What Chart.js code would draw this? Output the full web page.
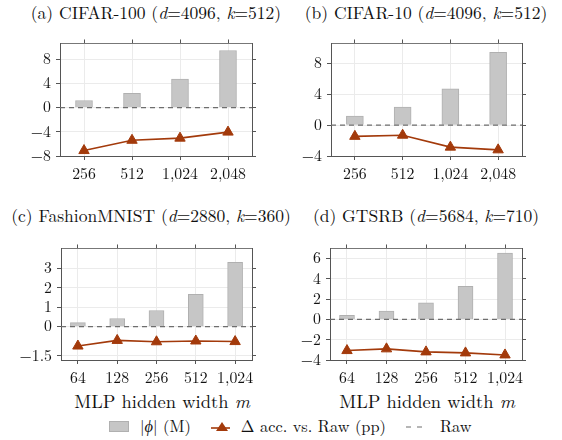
<!DOCTYPE html>
<html>
<head>
<meta charset="utf-8">
<script src="https://cdn.jsdelivr.net/npm/chart.js@4.4.1/dist/chart.umd.min.js"></script>
<style>
  body { margin: 0; background: #fff; }
  #fig { position: relative; width: 562px; height: 440px; font-family: "Latin Modern Roman", "Liberation Serif", serif; color: #111; }
  canvas { position: absolute; }
  .ttl { position: absolute; font-size: 17.5px; line-height: 18px; white-space: nowrap; transform: translateX(-50%); }
  .xlab { position: absolute; font-size: 18.5px; line-height: 18px; white-space: nowrap; transform: translateX(-50%); }
  #legend { position: absolute; left: 109px; top: 417px; font-size: 16.4px; line-height: 18px; white-space: nowrap; display: flex; align-items: center; }
  #legend span { display: inline-block; }
</style>
</head>
<body>
<div id="fig">
  <div class="ttl" style="left:156px;top:3px">(a) CIFAR-100 (<i>d</i>=4096, <i>k</i>=512)</div>
  <div class="ttl" style="left:426px;top:3px">(b) CIFAR-10 (<i>d</i>=4096, <i>k</i>=512)</div>
  <div class="ttl" style="left:151px;top:206px">(c) FashionMNIST (<i>d</i>=2880, <i>k</i>=360)</div>
  <div class="ttl" style="left:426px;top:206px">(d) GTSRB (<i>d</i>=5684, <i>k</i>=710)</div>
  <div class="xlab" style="left:162px;top:391px">MLP hidden width <i>m</i></div>
  <div class="xlab" style="left:427px;top:391px">MLP hidden width <i>m</i></div>
  <canvas id="cA"></canvas>
  <canvas id="cB"></canvas>
  <canvas id="cC"></canvas>
  <canvas id="cD"></canvas>
  <div id="legend">
    <span style="width:20px;height:11px;background:#c6c6c6;border:1px solid #b0b0b0;box-sizing:border-box"></span>
    <span style="margin-left:11px">|<i>ϕ</i>| (M)</span>
    <svg width="20" height="12" style="margin-left:20px"><line x1="0" y1="8" x2="19" y2="8" stroke="#a33a0b" stroke-width="1.6"/><polygon points="11,2 17,11 5,11" fill="#a33a0b"/></svg>
    <span style="margin-left:10px">Δ acc. vs. Raw (pp)</span>
    <svg width="22" height="12" style="margin-left:20px"><line x1="0" y1="7" x2="22" y2="7" stroke="#6e6e6e" stroke-width="1.2" stroke-dasharray="5,6"/></svg>
    <span style="margin-left:12px">Raw</span>
  </div>
</div>
<script>
// hidden widths m
const widthsAB = ['256', '512', '1,024', '2,048']
const widthsCD = ['64', '128', '256', '512', '1,024']

// |phi| in millions
const paramsCifar100 = [1.18, 2.36, 4.72, 9.44]
const paramsCifar10 = [1.18, 2.36, 4.72, 9.44]
const paramsFmnist = [0.21, 0.42, 0.83, 1.66, 3.32]
const paramsGtsrb = [0.41, 0.82, 1.64, 3.27, 6.55]

// accuracy change vs Raw (pp)
const accCifar100 = [-7.1, -5.4, -5.05, -4.05]
const accCifar10 = [-1.45, -1.3, -2.85, -3.2]
const accFmnist = [-1.0, -0.71, -0.78, -0.74, -0.77]
const accGtsrb = [-3.07, -2.9, -3.2, -3.3, -3.5]

// y tick labels
const ticksCifar100 = [-8, -4, 0, 4, 8]
const ticksCifar10 = [-4, 0, 4, 8]
const ticksFmnist = [-1.5, 0, 1, 2, 3]
const ticksGtsrb = [-4, -2, 0, 2, 4, 6]

const AXIS_W = 44, RIGHT_W = 6, TOP_H = 6, BOTTOM_H = 30
const lineColor = '#a33a0b'
const tickFont = { family: '"Latin Modern Roman", "Liberation Serif", serif', size: 15.8 }

function fmt(v) {
  return String(v).replace('-', '\u2212')
}

function makePanel(id, box, labels, params, acc, yTicks, yMin, yMax, xPad, barW) {
  const canvas = document.getElementById(id)
  const w = (box.r - box.l) + AXIS_W + RIGHT_W
  const h = (box.b - box.t) + TOP_H + BOTTOM_H
  canvas.width = w
  canvas.height = h
  canvas.style.left = (box.l - AXIS_W) + 'px'
  canvas.style.top = (box.t - TOP_H) + 'px'
  canvas.style.width = w + 'px'
  canvas.style.height = h + 'px'

  const idx = labels.map((_, i) => i)
  const xMin = -xPad, xMax = labels.length - 1 + xPad

  const xTicks = scale => { scale.ticks = idx.map(v => ({ value: v })) }
  const yTickSet = scale => { scale.ticks = yTicks.map(v => ({ value: v })) }

  return new Chart(canvas.getContext('2d'), {
    data: {
      datasets: [
        {
          type: 'line',
          label: 'acc',
          order: 0,
          data: idx.map(i => ({ x: i, y: acc[i] })),
          borderColor: lineColor,
          borderWidth: 1.6,
          pointStyle: 'triangle',
          pointRadius: 6,
          pointBackgroundColor: lineColor,
          pointBorderColor: lineColor,
          pointBorderWidth: 1,
          tension: 0
        },
        {
          type: 'line',
          label: 'Raw',
          order: 1,
          data: [{ x: xMin, y: 0 }, { x: xMax, y: 0 }],
          borderColor: '#6e6e6e',
          borderWidth: 1.3,
          borderDash: [5, 4],
          pointRadius: 0
        },
        {
          type: 'bar',
          label: 'params',
          order: 2,
          data: idx.map(i => ({ x: i, y: params[i] })),
          backgroundColor: '#c6c6c6',
          borderColor: '#b0b0b0',
          borderWidth: 1,
          barThickness: barW
        }
      ]
    },
    options: {
      responsive: false,
      animation: false,
      devicePixelRatio: 1,
      layout: { padding: 0 },
      plugins: { legend: { display: false }, tooltip: { enabled: false } },
      scales: {
        x: {
          type: 'linear', position: 'bottom', min: xMin, max: xMax, offset: false,
          afterBuildTicks: xTicks,
          afterFit: s => { s.height = BOTTOM_H },
          grid: { offset: false, color: '#ebebeb', tickColor: '#555', tickLength: 4 },
          border: { color: '#555', width: 1 },
          ticks: { font: tickFont, color: '#111', padding: 5, maxRotation: 0, autoSkip: false, callback: v => labels[v] }
        },
        x2: {
          type: 'linear', position: 'top', min: xMin, max: xMax, offset: false,
          afterBuildTicks: xTicks,
          afterFit: s => { s.height = TOP_H },
          grid: { offset: false, drawOnChartArea: false, tickColor: '#555', tickLength: 4 },
          border: { color: '#777', width: 1 },
          ticks: { display: false }
        },
        y: {
          type: 'linear', position: 'left', min: yMin, max: yMax,
          afterBuildTicks: yTickSet,
          afterFit: s => { s.width = AXIS_W },
          grid: { color: '#ebebeb', tickColor: '#555', tickLength: 4 },
          border: { color: '#555', width: 1 },
          ticks: { font: tickFont, color: '#111', padding: 5, autoSkip: false, callback: v => fmt(v) }
        },
        y2: {
          type: 'linear', position: 'right', min: yMin, max: yMax,
          afterBuildTicks: yTickSet,
          afterFit: s => { s.width = RIGHT_W },
          grid: { drawOnChartArea: false, tickColor: '#555', tickLength: 4 },
          border: { color: '#555', width: 1 },
          ticks: { display: false }
        }
      }
    }
  })
}

function drawAll() {
  makePanel('cA', { l: 60, t: 35, r: 253, b: 156 }, widthsAB, paramsCifar100, accCifar100, ticksCifar100, -8, 10.6, 0.5, 17)
  makePanel('cB', { l: 331, t: 35, r: 523, b: 156 }, widthsAB, paramsCifar10, accCifar10, ticksCifar10, -4, 10.6, 0.5, 17)
  makePanel('cC', { l: 61, t: 240, r: 253, b: 360 }, widthsCD, paramsFmnist, accFmnist, ticksFmnist, -1.72, 4.03, 0.43, 15)
  makePanel('cD', { l: 330, t: 240, r: 523, b: 360 }, widthsCD, paramsGtsrb, accGtsrb, ticksGtsrb, -4, 7, 0.43, 15)
}

// make sure the local font is ready before the canvases measure text
document.fonts.load('16px "Latin Modern Roman"').then(drawAll, drawAll)
</script>
</body>
</html>
